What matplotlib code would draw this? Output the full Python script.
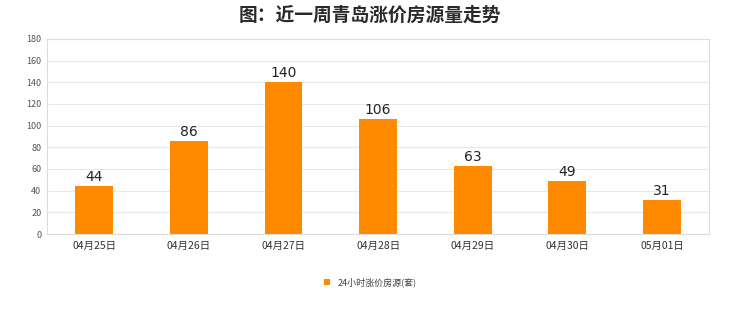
import matplotlib
matplotlib.use("Agg")
import matplotlib.pyplot as plt
import numpy as np

plt.rcParams['font.family'] = ['Noto Sans CJK SC', 'DejaVu Sans']

dates = ["04月25日", "04月26日", "04月27日", "04月28日", "04月29日", "04月30日", "05月01日"]
counts = [44, 86, 140, 106, 63, 49, 31]
series_name = "24小时涨价房源(套)"
yticks = [0, 20, 40, 60, 80, 100, 120, 140, 160, 180]

fig = plt.figure(figsize=(7.4, 3.12), dpi=100)
ax = fig.add_axes([0.0635, 0.25, 0.895, 0.625])

x = np.arange(len(dates))
bars = ax.bar(x, counts, width=0.4, color="#ff8a00", label=series_name, zorder=3)
for xi, v in zip(x, counts):
    ax.text(xi, v + 2, str(v), ha="center", va="bottom", fontsize=10,
            color="#222222", family="DejaVu Sans")

ax.set_xlim(-0.5, len(dates) - 0.5)
ax.set_ylim(0, 180)
ax.set_yticks(yticks)
ax.set_xticks(x)
ax.set_xticklabels(dates, fontsize=7.5, color="#333333")
ax.tick_params(axis="y", labelsize=6.5, colors="#555555", length=0, pad=4)
ax.tick_params(axis="x", length=0, pad=5)
ax.grid(axis="y", color="#e8e8e8", linewidth=0.8, zorder=0)
for s in ax.spines.values():
    s.set_color("#dddddd")
    s.set_linewidth(0.8)

fig.text(0.5, 0.95, "图：近一周青岛涨价房源量走势", ha="center", va="center",
         fontsize=13.5, fontweight="bold", color="#2a2a2a")

leg = fig.legend(handles=[bars], labels=[series_name], loc="center",
                 bbox_to_anchor=(0.5, 0.095), frameon=False, fontsize=6.5,
                 handlelength=0.7, handleheight=0.7, handletextpad=0.8)
for t in leg.get_texts():
    t.set_color("#444444")

fig.savefig("out.png", dpi=100)
